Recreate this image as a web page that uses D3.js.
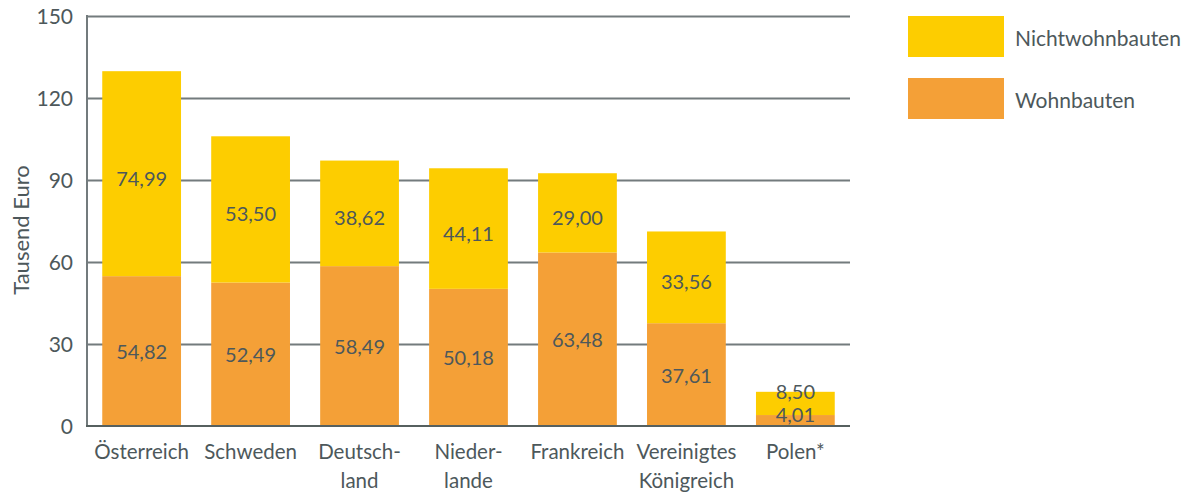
<!DOCTYPE html>
<html>
<head>
<meta charset="utf-8">
<script src="https://cdn.jsdelivr.net/npm/d3@7/dist/d3.min.js"></script>
<style>
  html, body { margin: 0; padding: 0; background: #fff; }
  svg { display: block; }
  text { font-family: Lato, "Open Sans", sans-serif; fill: #4d585b; }
</style>
</head>
<body>
<svg id="chart" width="1188" height="492"></svg>
<script>
// ---- data ----
const categories = ["Österreich", "Schweden", "Deutsch-\nland", "Nieder-\nlande", "Frankreich", "Vereinigtes\nKönigreich", "Polen*"];
const wohnbauten = [54.82, 52.49, 58.49, 50.18, 63.48, 37.61, 4.01];
const nichtwohnbauten = [74.99, 53.50, 38.62, 44.11, 29.00, 33.56, 8.50];
const seriesNames = ["Wohnbauten", "Nichtwohnbauten"];
const yTicks = [0, 30, 60, 90, 120, 150];
const yTitle = "Tausend Euro";

// ---- layout ----
const svg = d3.select("#chart");
const mLeft = 87, mRight = 850, mTop = 16, mBottom = 426;
const colors = { "Wohnbauten": "#f4a037", "Nichtwohnbauten": "#fdcd00" };

const x = d3.scaleBand().domain(categories).range([mLeft, mRight]).paddingInner(0.277).paddingOuter(0.14);
const y = d3.scaleLinear().domain([0, 150]).range([mBottom, mTop]);

const fmt = d3.formatLocale({ decimal: ",", thousands: ".", grouping: [3], currency: ["", "€"] }).format(".2f");

// gridlines + y axis
const yAxis = svg.append("g")
  .attr("transform", `translate(${mLeft},0)`)
  .call(d3.axisLeft(y).tickValues(yTicks).tickSize(-(mRight - mLeft)).tickPadding(14).tickFormat(d3.format("d")));
yAxis.select(".domain").remove();
yAxis.selectAll(".tick line").attr("stroke", "#737b7d").attr("stroke-width", 2);
yAxis.selectAll(".tick text").style("font-size", "21px").attr("fill", "#4d585b").attr("dy", "0.36em");
yAxis.selectAll(".tick").filter(d => d === 0).select("line").remove();

// left axis line
svg.append("line").attr("x1", mLeft).attr("x2", mLeft).attr("y1", mTop - 1).attr("y2", mBottom)
  .attr("stroke", "#737b7d").attr("stroke-width", 2);

// stacked data
const rows = categories.map((c, i) => ({ cat: c, Wohnbauten: wohnbauten[i], Nichtwohnbauten: nichtwohnbauten[i] }));
const stack = d3.stack().keys(seriesNames)(rows);

const layers = svg.append("g").selectAll("g").data(stack).join("g")
  .attr("fill", d => colors[d.key]);
layers.selectAll("rect").data(d => d).join("rect")
  .attr("x", d => x(d.data.cat))
  .attr("width", x.bandwidth())
  .attr("y", d => y(d[1]))
  .attr("height", d => y(d[0]) - y(d[1]));

// baseline
svg.append("line").attr("x1", mLeft - 1).attr("x2", mRight).attr("y1", mBottom).attr("y2", mBottom)
  .attr("stroke", "#56605f").attr("stroke-width", 2);

// value labels
const labelG = svg.append("g");
stack.forEach(layer => {
  layer.forEach(d => {
    const h = y(d[0]) - y(d[1]);
    const shift = layer.key === "Nichtwohnbauten" ? 5 : 1;
    const ty = h < 40 ? y(d[1]) : (y(d[0]) + y(d[1])) / 2 + shift;
    labelG.append("text")
      .attr("x", x(d.data.cat) + x.bandwidth() / 2)
      .attr("y", ty)
      .attr("dy", "0.35em")
      .attr("text-anchor", "middle")
      .style("font-size", "20px")
      .text(fmt(d[1] - d[0]));
  });
});

// x labels
const xl = svg.append("g");
categories.forEach(c => {
  const t = xl.append("text")
    .attr("x", x(c) + x.bandwidth() / 2)
    .attr("y", 459)
    .attr("text-anchor", "middle")
    .style("font-size", "20.5px");
  c.split("\n").forEach((line, i) => {
    t.append("tspan").attr("x", x(c) + x.bandwidth() / 2).attr("dy", i === 0 ? 0 : 29).text(line);
  });
});

// y title
svg.append("text")
  .attr("transform", `translate(29,230) rotate(-90)`)
  .attr("text-anchor", "middle")
  .style("font-size", "22px")
  .text(yTitle);

// legend
const legendItems = ["Nichtwohnbauten", "Wohnbauten"];
const lg = svg.append("g");
legendItems.forEach((k, i) => {
  const yy = 16 + i * 62;
  lg.append("rect").attr("x", 908).attr("y", yy).attr("width", 96).attr("height", 41).attr("fill", colors[k]);
  lg.append("text").attr("x", 1015).attr("y", yy + 22).attr("dy", "0.38em").style("font-size", "21px").text(k);
});
</script>
</body>
</html>
